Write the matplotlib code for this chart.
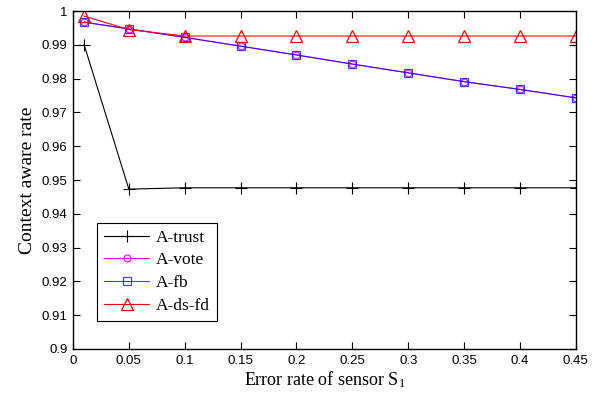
import matplotlib
matplotlib.use("Agg")
import matplotlib.pyplot as plt

plt.rcParams["mathtext.fontset"] = "custom"
plt.rcParams["mathtext.rm"] = "Liberation Serif"
plt.rcParams["mathtext.it"] = "Liberation Serif"

x = [0.01, 0.05, 0.1, 0.15, 0.2, 0.25, 0.3, 0.35, 0.4, 0.45]
a_trust = [0.9900, 0.9473, 0.9477, 0.9477, 0.9477, 0.9477, 0.9477, 0.9477, 0.9477, 0.9477]
a_vote = [0.9967, 0.9947, 0.9922, 0.9896, 0.9870, 0.9843, 0.9817, 0.9791, 0.9768, 0.9743]
a_fb = [0.9967, 0.9947, 0.9922, 0.9896, 0.9870, 0.9843, 0.9817, 0.9791, 0.9768, 0.9743]
a_dsfd = [0.9985, 0.9945, 0.9926, 0.9926, 0.9926, 0.9926, 0.9926, 0.9926, 0.9926, 0.9926]

xticks = [0, 0.05, 0.1, 0.15, 0.2, 0.25, 0.3, 0.35, 0.4, 0.45]
xticklabels = ["0", "0.05", "0.1", "0.15", "0.2", "0.25", "0.3", "0.35", "0.4", "0.45"]
yticks = [0.9, 0.91, 0.92, 0.93, 0.94, 0.95, 0.96, 0.97, 0.98, 0.99, 1.0]
yticklabels = ["0.9", "0.91", "0.92", "0.93", "0.94", "0.95", "0.96", "0.97", "0.98", "0.99", "1"]

fig = plt.figure(figsize=(5.98, 3.96), dpi=100)
ax = fig.add_axes([0.122, 0.1187, 0.841, 0.8535])

ax.plot(x, a_trust, color="black", marker="+", markersize=8, lw=0.8, mew=0.8, label="A-trust")
ax.plot(x, a_vote, color="magenta", marker="o", markersize=5, lw=0.8, mfc="none", mew=0.8, label="A-vote")
ax.plot(x, a_fb, color="blue", marker="s", markersize=6, lw=0.8, mfc="none", mew=0.9, alpha=0.75, label="A-fb")
ax.plot(x, a_dsfd, color="red", marker="^", markersize=8, lw=0.8, mfc="none", mew=0.9, label="A-ds-fd")

ax.set_xlim(0, 0.45)
ax.set_ylim(0.9, 1.0)
ax.set_xticks(xticks)
ax.set_xticklabels(xticklabels, family="Liberation Sans", fontsize=9.5)
ax.set_yticks(yticks)
ax.set_yticklabels(yticklabels, family="Liberation Sans", fontsize=9.5)
ax.tick_params(direction="in", top=True, right=True, length=5, width=0.8, pad=4)
for s in ax.spines.values():
    s.set_linewidth(1.0)

ax.set_xlabel("Error rate of sensor S$_1$", family="Liberation Serif", fontsize=13, labelpad=2)
ax.set_ylabel("Context aware rate", family="Liberation Serif", fontsize=14)

leg = ax.legend(loc="lower left", bbox_to_anchor=(0.048, 0.083), prop={"family": "Liberation Serif", "size": 12.5},
                fancybox=False, edgecolor="black", framealpha=1, handlelength=2.6, handletextpad=0.4,
                borderpad=0.4, labelspacing=0.38, borderaxespad=0)
leg.get_frame().set_linewidth(0.8)

fig.savefig("out.png", dpi=100)
